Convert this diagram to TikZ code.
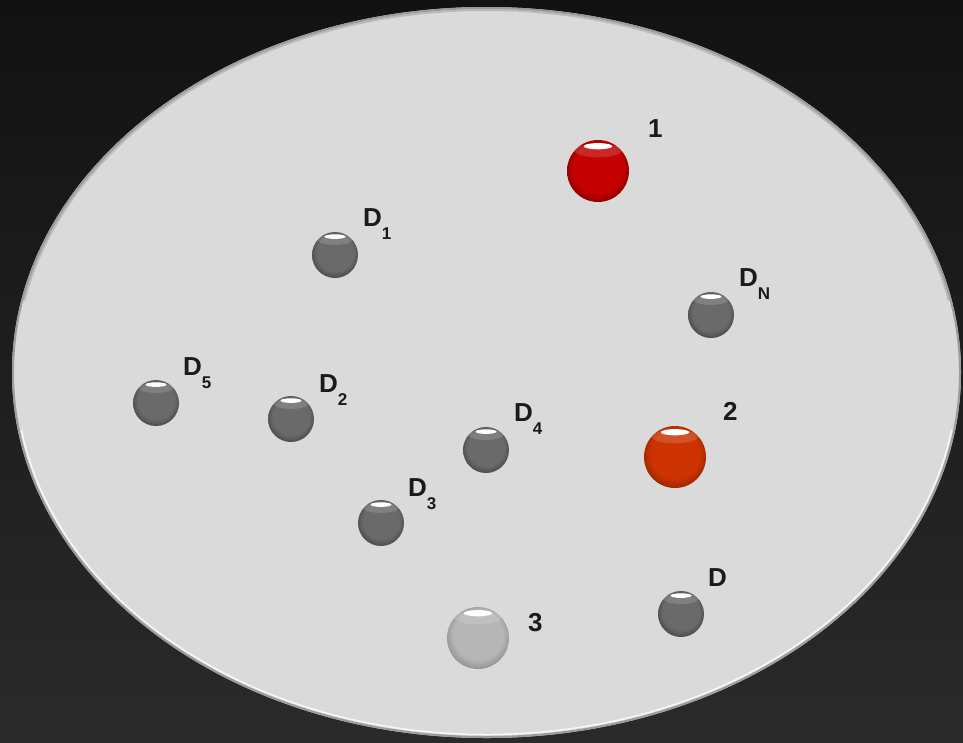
\documentclass[tikz,border=0pt]{standalone}
\usepackage{fontspec}
\setmainfont{Liberation Sans}
\usetikzlibrary{calc}
\definecolor{bgtop}{HTML}{121212}
\definecolor{bgbot}{HTML}{2A2A2A}
\definecolor{plate}{HTML}{DADADA}
\definecolor{platerim}{HTML}{9C9C9C}
\definecolor{labtext}{HTML}{1A1A1A}
\definecolor{redA}{HTML}{C40000}
\definecolor{redB}{HTML}{900000}
\definecolor{orgA}{HTML}{CC3300}
\definecolor{orgB}{HTML}{9A2600}
\definecolor{gryA}{HTML}{6A6A6A}
\definecolor{gryB}{HTML}{4A4A4A}
\definecolor{lgtA}{HTML}{B6B6B6}
\definecolor{lgtB}{HTML}{939393}
\pgfdeclareradialshading{redball}{\pgfpoint{0bp}{4bp}}{color(0bp)=(redA); color(20bp)=(redA); color(27bp)=(redB); color(50bp)=(redB)}
\pgfdeclareradialshading{orgball}{\pgfpoint{0bp}{4bp}}{color(0bp)=(orgA); color(20bp)=(orgA); color(27bp)=(orgB); color(50bp)=(orgB)}
\pgfdeclareradialshading{gryball}{\pgfpoint{0bp}{4bp}}{color(0bp)=(gryA); color(20bp)=(gryA); color(27bp)=(gryB); color(50bp)=(gryB)}
\pgfdeclareradialshading{lgtball}{\pgfpoint{0bp}{4bp}}{color(0bp)=(lgtA); color(20bp)=(lgtA); color(27bp)=(lgtB); color(50bp)=(lgtB)}
\newcommand\sbs[1]{\raisebox{-13pt}{\fontsize{17}{17}\selectfont #1}}
\tikzset{
  ball/.style 2 args={circle, inner sep=0pt, minimum size=#2, shading=#1,
    path picture={
      \fill[white, opacity=0.15] ([yshift=-0.17*#2]path picture bounding box.north) ellipse [x radius=0.38*#2, y radius=0.11*#2];
      \fill[white] ([yshift=-0.10*#2]path picture bounding box.north) ellipse [x radius=0.23*#2, y radius=0.05*#2];
    }},
  lab/.style={anchor=base west, inner sep=0pt, text=labtext, font=\fontsize{26}{26}\selectfont\bfseries}
}
\begin{document}
\begin{tikzpicture}[x=1pt,y=-1pt]
\useasboundingbox (0,0) rectangle (963,742);
\shade[top color=bgtop, bottom color=bgbot] (0,0) rectangle (963,742);
% plate
\fill[plate] (486.5,372.5) ellipse [x radius=474.5, y radius=365.5];
\draw[platerim, line width=2pt] (486.5,372.5) ellipse [x radius=473.5, y radius=364.5];
\begin{scope}
  \clip (0,430) rectangle (963,742);
  \draw[white, line width=1.5pt, opacity=0.8] (486.5,372.5) ellipse [x radius=471, y radius=362];
\end{scope}
\begin{scope}
  \clip (0,0) rectangle (963,300);
  \draw[platerim, line width=2pt, opacity=0.5] (486.5,372.5) ellipse [x radius=471.5, y radius=362.5];
\end{scope}
% balls
\node[ball={redball}{62pt}] (b1) at (598,171) {};
\node[ball={orgball}{62pt}] (b2) at (675,457) {};
\node[ball={lgtball}{62pt}] (b3) at (478,638) {};
\node[ball={gryball}{46pt}] (d1) at (335,255) {};
\node[ball={gryball}{46pt}] (dn) at (711,315) {};
\node[ball={gryball}{46pt}] (d5) at (156,403) {};
\node[ball={gryball}{46pt}] (d2) at (291,419) {};
\node[ball={gryball}{46pt}] (d4) at (486,450) {};
\node[ball={gryball}{46pt}] (d3) at (381,523) {};
\node[ball={gryball}{46pt}] (d) at (681,614) {};
% labels
\node[lab] (l1) at (648,137) {1};
\node[lab] (l2) at (723,420) {2};
\node[lab] (l3) at (528,631) {3};
\node[lab] (ld1) at (363,226) {D\sbs{1}};
\node[lab] (ldn) at (739,286) {D\sbs{N}};
\node[lab] (ld5) at (183,375) {D\sbs{5}};
\node[lab] (ld2) at (319,392) {D\sbs{2}};
\node[lab] (ld4) at (514,421) {D\sbs{4}};
\node[lab] (ld3) at (408,496) {D\sbs{3}};
\node[lab] (ld) at (708,586) {D};
\end{tikzpicture}
\end{document}
